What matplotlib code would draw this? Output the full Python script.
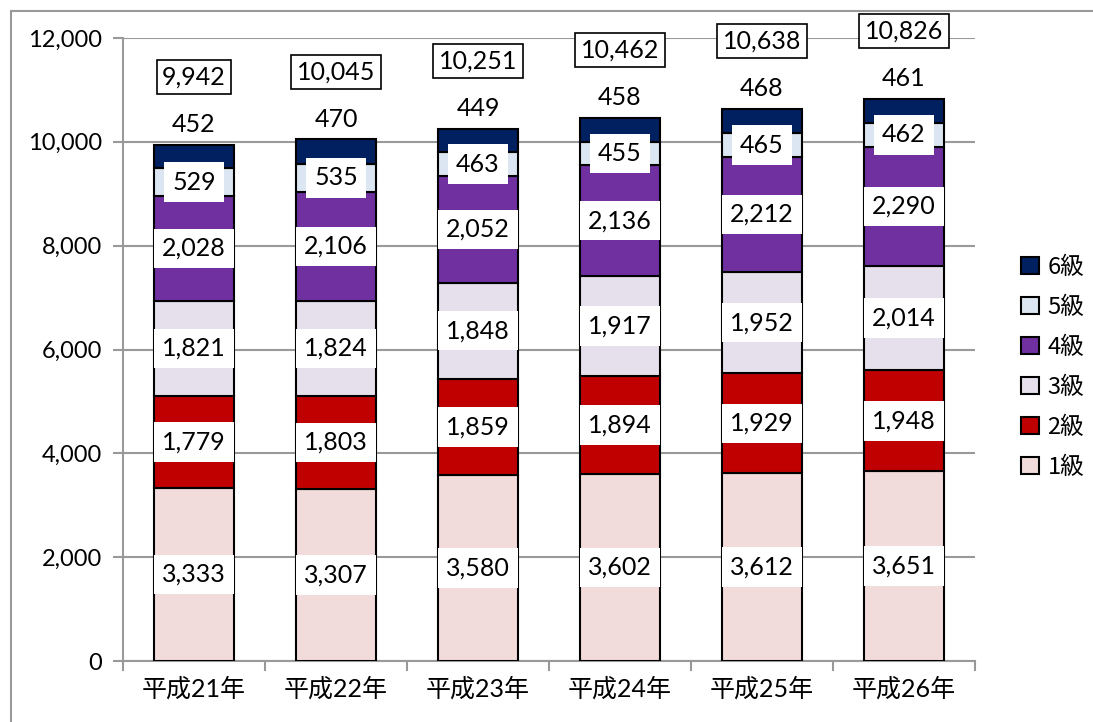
import matplotlib.pyplot as plt
from matplotlib.patches import Rectangle
import numpy as np

years = ['平成21年', '平成22年', '平成23年', '平成24年', '平成25年', '平成26年']
grades = ['1級', '2級', '3級', '4級', '5級', '6級']
g1 = [3333, 3307, 3580, 3602, 3612, 3651]
g2 = [1779, 1803, 1859, 1894, 1929, 1948]
g3 = [1821, 1824, 1848, 1917, 1952, 2014]
g4 = [2028, 2106, 2052, 2136, 2212, 2290]
g5 = [529, 535, 463, 455, 465, 462]
g6 = [452, 470, 449, 458, 468, 461]
totals = [9942, 10045, 10251, 10462, 10638, 10826]
colors = ['#F2DCDB', '#C00000', '#E6E0EC', '#7030A0', '#DCE6F2', '#002060']

plt.rcParams['font.family'] = ['Lato', 'Noto Sans CJK JP', 'DejaVu Sans']

fig = plt.figure(figsize=(10.93, 7.22), dpi=100)
ax = fig.add_axes([123 / 1093, 1 - 661 / 722, 852 / 1093, 623 / 722])

x = np.arange(len(years))
series = [g1, g2, g3, g4, g5, g6]
bottom = np.zeros(len(years))
bars = []
for vals, col, name in zip(series, colors, grades):
    b = ax.bar(x, vals, 0.56, bottom=bottom, color=col, edgecolor='black',
               linewidth=1.5, label=name, zorder=3)
    bars.append(b)
    if name != '6級':
        for xi, v, b0 in zip(x, vals, bottom):
            ax.text(xi, b0 + v / 2, f'{v:,}', ha='center', va='center', fontsize=18,
                    zorder=5, bbox=dict(boxstyle='square,pad=0.33',
                                        facecolor='white', edgecolor='none'))
    bottom = bottom + np.array(vals)

for xi, v, t in zip(x, g6, totals):
    ax.text(xi, t + 390, f'{v:,}', ha='center', va='center', fontsize=18, zorder=5,
            bbox=dict(boxstyle='square,pad=0.1', facecolor='white', edgecolor='none'))
    ax.text(xi, t + 1300, f'{t:,}', ha='center', va='center', fontsize=18, zorder=5,
            clip_on=False,
            bbox=dict(boxstyle='square,pad=0.22', facecolor='white',
                      edgecolor='black', linewidth=1.2))

ax.set_xlim(-0.5, 5.5)
ax.set_ylim(0, 12000)
ax.set_yticks(range(0, 12001, 2000))
ax.set_yticklabels([f'{v:,}' for v in range(0, 12001, 2000)], fontsize=17)
ax.yaxis.grid(True, color='#999999', linewidth=1.5, zorder=0)
ax.set_axisbelow(True)

ax.set_xticks(x)
ax.set_xticklabels(years, fontsize=18)
ax.set_xticks(np.arange(-0.5, 6, 1), minor=True)
ax.tick_params(axis='x', which='major', length=0, pad=12)
ax.tick_params(axis='x', which='minor', length=7, color='#999999', width=1.5, direction='out')
ax.tick_params(axis='y', length=7, color='#999999', width=1.5, direction='out', pad=8)

for s in ['top', 'right']:
    ax.spines[s].set_visible(False)
for s in ['left', 'bottom']:
    ax.spines[s].set_color('#999999')
    ax.spines[s].set_linewidth(1.5)

handles = [bars[i] for i in range(5, -1, -1)]
labels = [grades[i] for i in range(5, -1, -1)]
fig.legend(handles, labels, loc='center left', bbox_to_anchor=(1012 / 1093, 1 - 367 / 722),
           frameon=False, prop={'family': ['Noto Sans CJK JP'], 'size': 17},
           labelspacing=0.72, handlelength=0.75, handleheight=0.75,
           handletextpad=0.35, borderaxespad=0)

fig.patches.append(Rectangle((11 / 1093, -0.05), 1.2, 1 - 11 / 722 + 0.05,
                             transform=fig.transFigure, fill=False,
                             edgecolor='#999999', linewidth=1.5))

fig.savefig('out.png', dpi=100)
